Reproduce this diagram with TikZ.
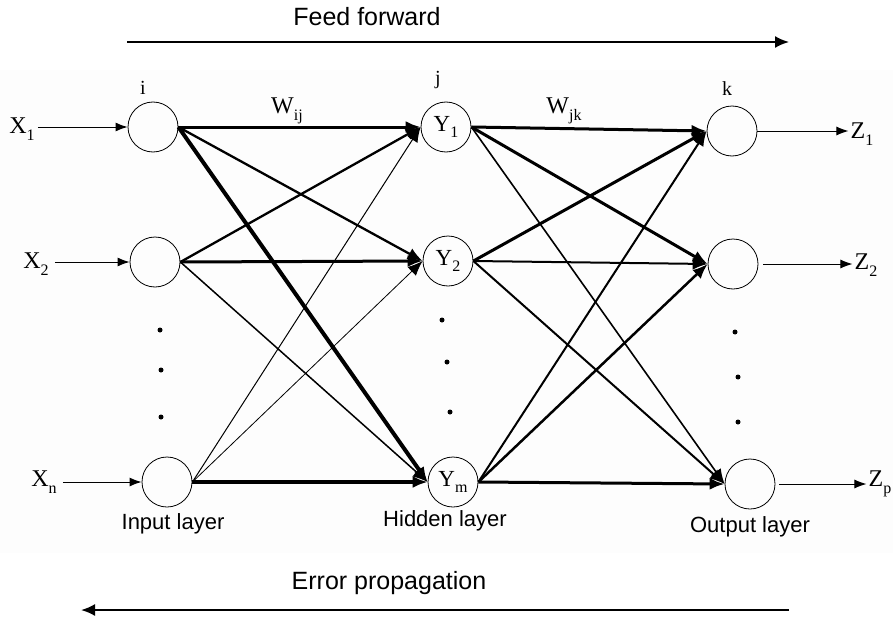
\documentclass[tikz,border=0pt]{standalone}
\usepackage{fontspec}
\setmainfont{Liberation Serif}
\newfontfamily\arialf{Liberation Sans}
\usetikzlibrary{arrows.meta,calc}
\newcommand\sbs[2]{#1\raisebox{-0.28em}{\fontsize{16}{16}\selectfont #2}}
\begin{document}
\begin{tikzpicture}[x=1pt,y=-1pt,
  neuron/.style={circle,draw,line width=0.8pt,minimum size=50pt,inner sep=0pt,font=\fontsize{23}{23}\selectfont},
  lbl/.style={inner sep=0pt,font=\fontsize{24}{24}\selectfont},
  idx/.style={inner sep=0pt,font=\fontsize{20}{20}\selectfont},
  layer/.style={inner sep=0pt,font=\arialf\fontsize{22}{22}\selectfont},
  title/.style={inner sep=0pt,font=\arialf\fontsize{25}{25}\selectfont},
  conn/.style={-{Latex[length=15pt,width=12pt]}},
  io/.style={line width=1pt,-{Latex[length=12pt,width=9pt]}},
  bigarrow/.style={line width=2pt,-{Latex[length=14pt,width=12pt]}},
  dotn/.style={circle,fill,inner sep=0pt,minimum size=5pt}
]
\useasboundingbox (0,0) rectangle (893,623);
\fill[black!0.6] (0,70) rectangle (893,553);

% nodes
\node[neuron] (i1) at (153,127) {};
\node[neuron] (i2) at (155,262) {};
\node[neuron] (in) at (167,482) {};
\node[neuron] (h1) at (446,127) {\sbs{Y}{1}};
\node[neuron] (h2) at (448,261) {\sbs{Y}{2}};
\node[neuron] (hm) at (453,482) {\sbs{Y}{m}};
\node[neuron] (o1) at (732,131) {};
\node[neuron] (o2) at (733,264) {};
\node[neuron] (op) at (750,484) {};

% input / output labels
\node[lbl] (x1) at (22,129) {\sbs{X}{1}};
\node[lbl] (x2) at (36,264) {\sbs{X}{2}};
\node[lbl] (xn) at (44,482) {\sbs{X}{n}};
\node[lbl] (z1) at (862,134) {\sbs{Z}{1}};
\node[lbl] (z2) at (866,265) {\sbs{Z}{2}};
\node[lbl] (zp) at (880,484) {\sbs{Z}{p}};

\draw[io] ($(i1.west -| x1.east)+(3,0)$) -- (i1.west);
\draw[io] ($(i2.west -| x2.east)+(6,0)$) -- (i2.west);
\draw[io] ($(in.west -| xn.east)+(6,0)$) -- (in.west);
\draw[io] (o1.east) -- ($(o1.east -| z1.west)+(-2,0)$);
\draw[io] ($(o2.east)+(5,0)$) -- ($(o2.east -| z2.west)+(-2,0)$);
\draw[io] ($(op.east)+(4,0)$) -- ($(op.east -| zp.west)+(-2,0)$);

% index labels
\node[idx] (li) at (143,88) {i};
\node[idx] (lj) at (438,80) {j};
\node[idx] (lk) at (727,89) {k};
\node[lbl] (wij) at (287,111) {\sbs{W}{ij}};
\node[lbl] (wjk) at (564,111) {\sbs{W}{jk}};

% input -> hidden
\draw[conn,line width=3pt] (i1.east) -- (h1.west);
\draw[conn,line width=2.3pt] (i1.east) -- (h2.west);
\draw[conn,line width=4pt] (i1.east) -- (hm.west);
\draw[conn,line width=2.3pt] (i2.east) -- (h1.west);
\draw[conn,line width=3pt] (i2.east) -- (h2.west);
\draw[conn,line width=1.5pt] (i2.east) -- (hm.west);
\draw[conn,line width=1pt] (in.east) -- (h1.west);
\draw[conn,line width=0.8pt] (in.east) -- (h2.west);
\draw[conn,line width=3.5pt] (in.east) -- (hm.west);

% hidden -> output
\draw[conn,line width=3pt] (h1.east) -- (o1.west);
\draw[conn,line width=3pt] (h1.east) -- (o2.west);
\draw[conn,line width=1.6pt] (h1.east) -- (op.west);
\draw[conn,line width=3pt] (h2.east) -- (o1.west);
\draw[conn,line width=2pt] (h2.east) -- (o2.west);
\draw[conn,line width=2pt] (h2.east) -- (op.west);
\draw[conn,line width=2pt] (hm.east) -- (o1.west);
\draw[conn,line width=2.5pt] (hm.east) -- (o2.west);
\draw[conn,line width=3pt] (hm.east) -- (op.west);

% dots
\node[dotn] (d1) at (160,330) {};
\node[dotn] (d2) at (161,370) {};
\node[dotn] (d3) at (161,417) {};
\node[dotn] (d4) at (442,320) {};
\node[dotn] (d5) at (447,362) {};
\node[dotn] (d6) at (450,412) {};
\node[dotn] (d7) at (735,332) {};
\node[dotn] (d8) at (738,377) {};
\node[dotn] (d9) at (738,422) {};

% layer labels
\node[layer] (ll1) at (173,524) {Input layer};
\node[layer] (ll2) at (445,521) {Hidden layer};
\node[layer] (ll3) at (750,527) {Output layer};

% direction arrows
\node[title] (ff) at (367,17) {Feed forward};
\coordinate (ffa) at (127,42);
\coordinate (ffb) at (789,42);
\draw[bigarrow] (ffa) -- (ffb);
\node[title] (ep) at (389,583) {Error propagation};
\coordinate (epa) at (789,610);
\coordinate (epb) at (81,610);
\draw[bigarrow] (epa) -- (epb);
\end{tikzpicture}
\end{document}
